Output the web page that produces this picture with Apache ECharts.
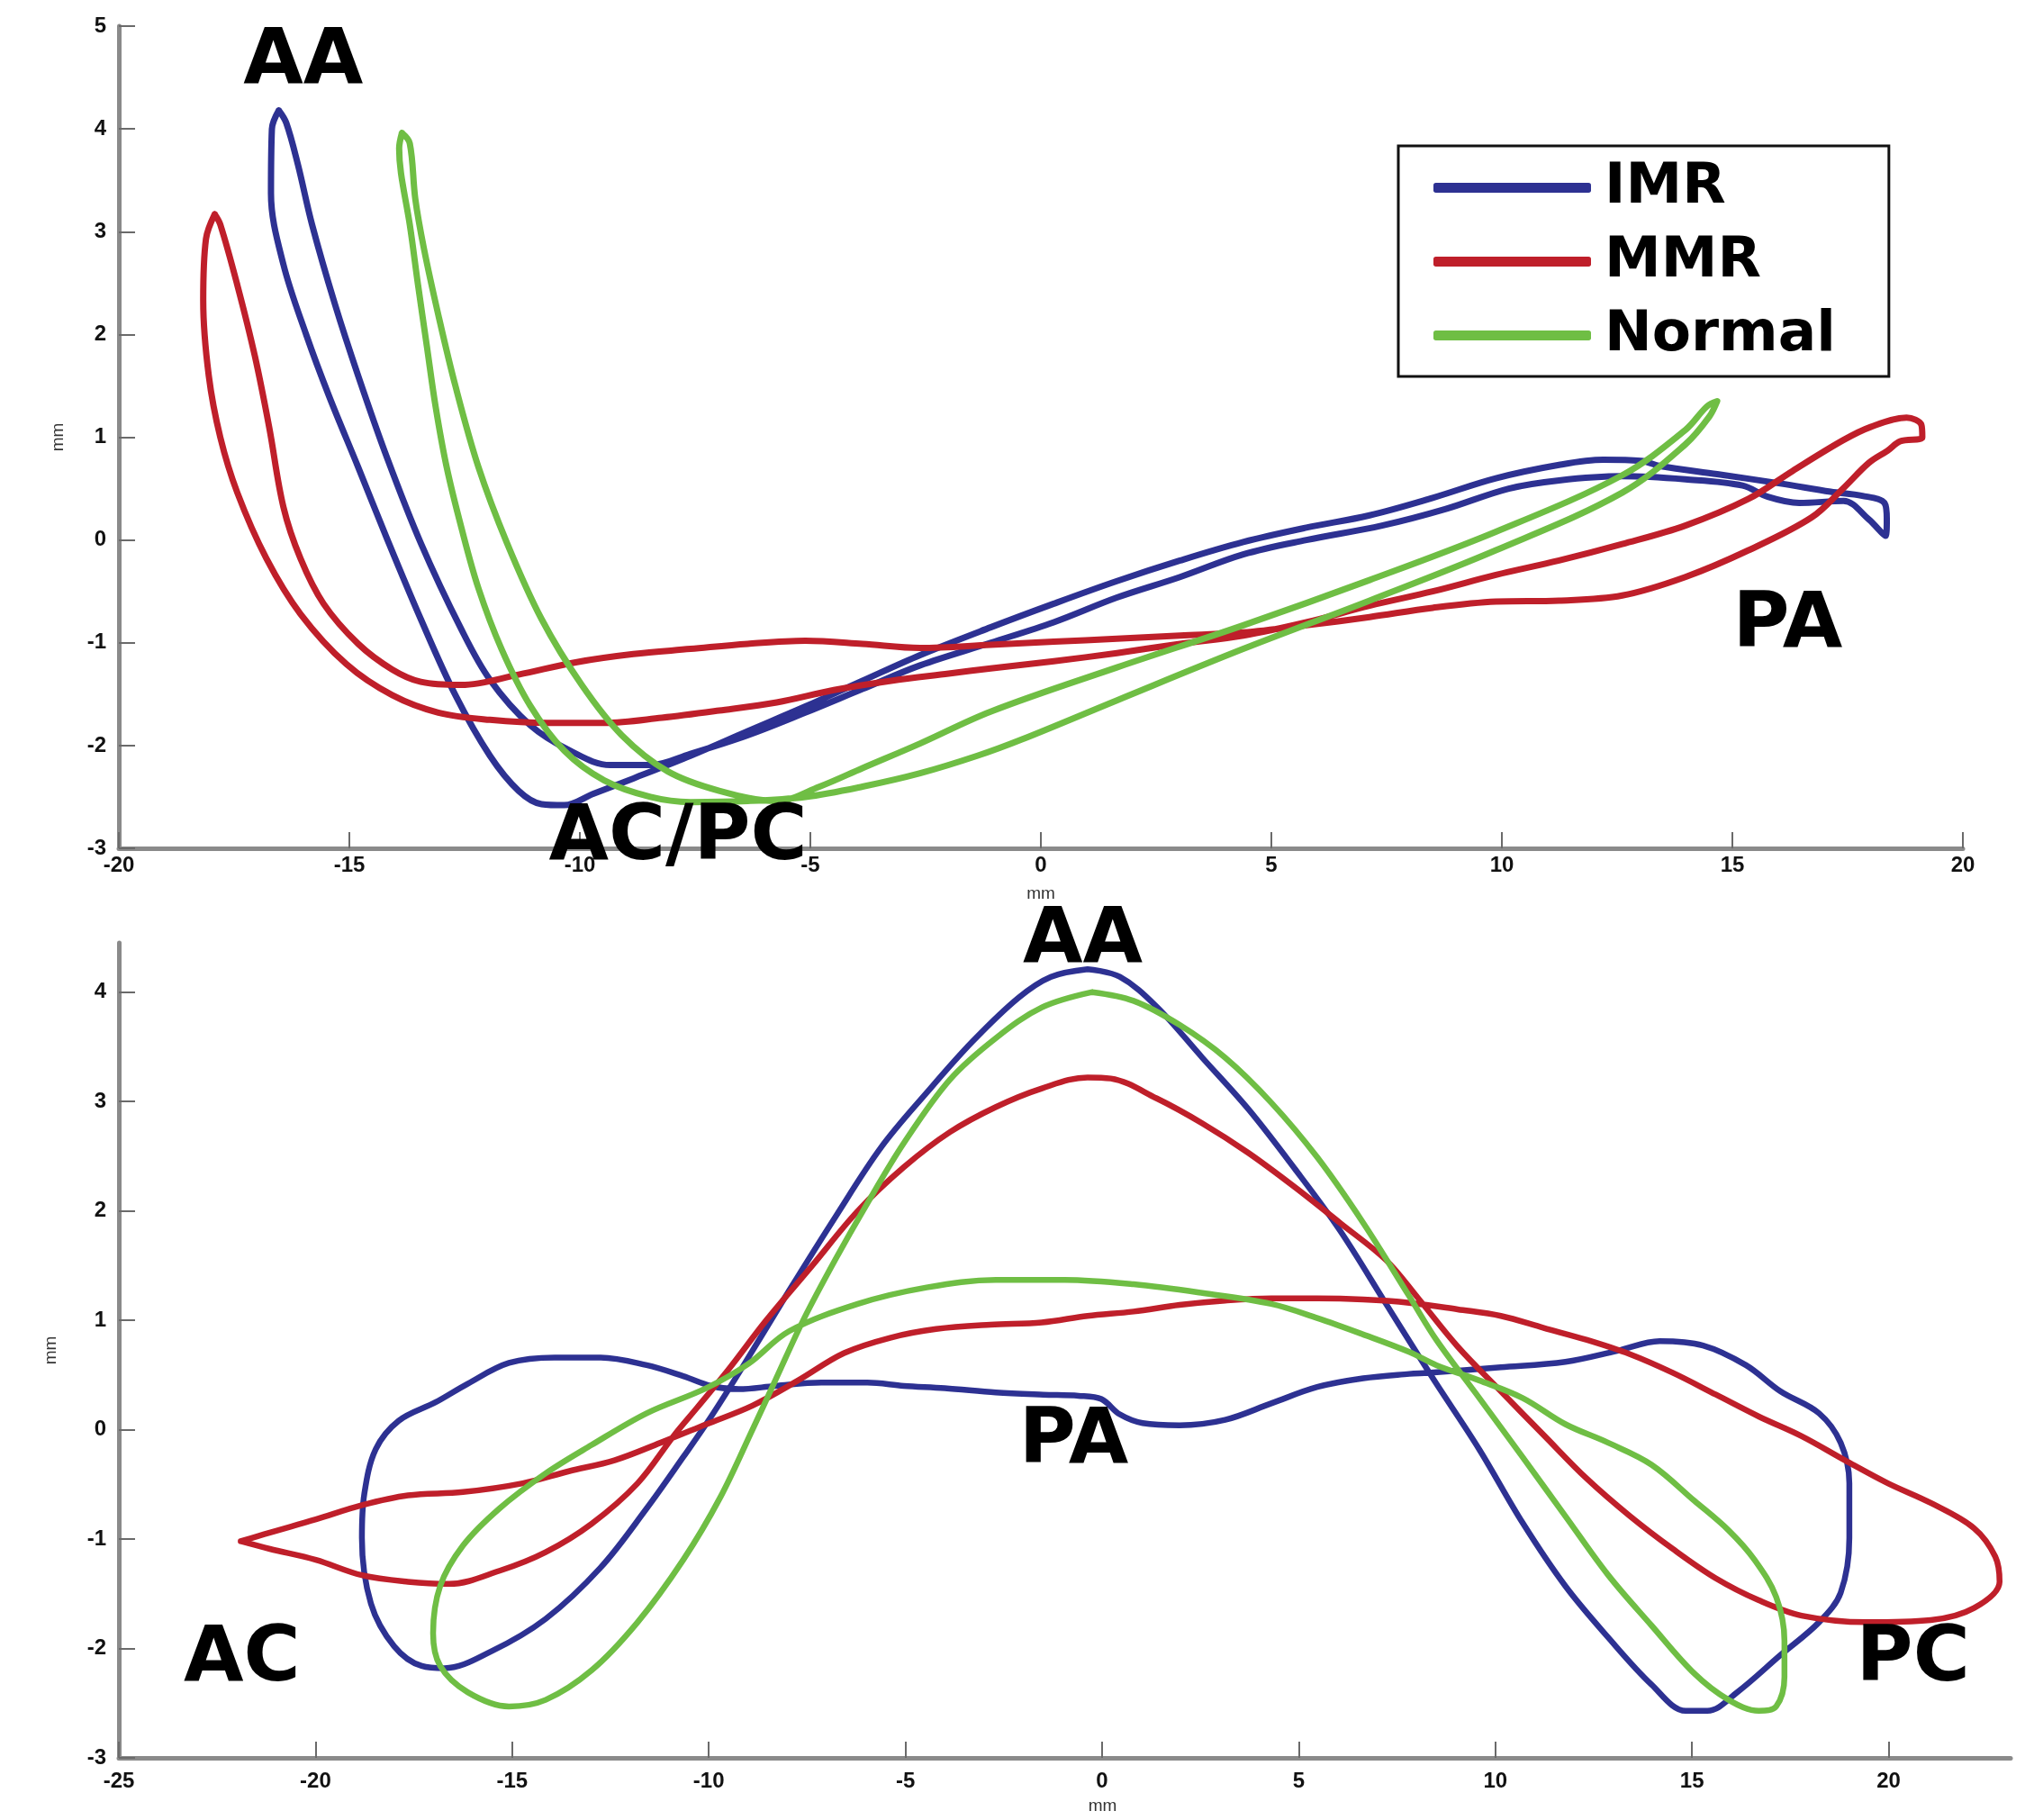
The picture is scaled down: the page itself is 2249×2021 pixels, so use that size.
<!DOCTYPE html>
<html>
<head>
<meta charset="utf-8">
<script src="https://cdn.jsdelivr.net/npm/echarts@6/dist/echarts.min.js"></script>
<style>
  html, body { margin: 0; padding: 0; background: #ffffff; }
  #chart { width: 2249px; height: 2021px; }
</style>
</head>
<body>
<div id="chart"></div>
<script>
// Annulus traces (mm). Each loop is closed: the last point repeats the first.
const seriesNames = ['IMR', 'MMR', 'Normal'];

// Upper panel: septal-lateral position vs. height
const topIMR = [
  [-16.53,4.18],[-16.68,4.0],[-16.7,3.37],[-16.43,2.68],[-15.93,1.99],[-15.44,1.4],[-14.81,0.71],
  [-14.19,0.02],[-13.45,-0.77],[-12.7,-1.51],[-11.95,-2.1],[-11.33,-2.44],[-10.83,-2.57],[-10.34,-2.58],
  [-9.71,-2.47],[-8.84,-2.32],[-7.6,-2.1],[-6.36,-1.86],[-5.11,-1.62],[-3.87,-1.37],[-2.62,-1.12],
  [-1.09,-0.85],[0.28,-0.62],[1.65,-0.4],[3.02,-0.2],[4.39,-0.02],[5.76,0.12],[7.13,0.24],[8.5,0.41],
  [9.87,0.6],[11.24,0.73],[12.2,0.78],[13.02,0.77],[13.43,0.72],[14.67,0.64],[16.04,0.55],[17.13,0.47],
  [17.82,0.43],[18.3,0.36],[18.35,0.2],[18.32,0.04],[17.96,0.2],[17.41,0.38],[16.45,0.36],[15.77,0.42],
  [15.22,0.53],[13.98,0.59],[12.61,0.62],[11.24,0.58],[10.15,0.5],[8.77,0.3],[7.4,0.14],[5.76,0.0],
  [4.39,-0.14],[3.02,-0.36],[1.65,-0.56],[0.28,-0.8],[-1.09,-1.0],[-2.62,-1.22],[-3.87,-1.45],
  [-5.11,-1.68],[-6.36,-1.9],[-7.6,-2.08],[-8.47,-2.19],[-9.34,-2.19],[-10.21,-2.05],[-11.08,-1.8],
  [-11.95,-1.36],[-12.57,-0.87],[-13.45,-0.03],[-14.19,0.81],[-14.81,1.6],[-15.31,2.29],[-15.81,3.07],
  [-16.12,3.66],[-16.37,4.06],[-16.53,4.18]
];
const topMMR = [
  [-17.92,3.17],[-18.11,2.93],[-18.17,2.33],[-18.05,1.6],[-17.8,1.0],[-17.43,0.46],[-16.8,-0.18],
  [-16.06,-0.72],[-15.06,-1.21],[-14.07,-1.51],[-13.07,-1.68],[-11.95,-1.75],[-10.71,-1.78],[-9.47,-1.78],
  [-8.22,-1.73],[-6.98,-1.66],[-5.73,-1.58],[-4.49,-1.46],[-3.25,-1.37],[-2.0,-1.3],[-1.09,-1.25],
  [0.28,-1.18],[1.65,-1.1],[3.02,-1.01],[4.39,-0.93],[5.76,-0.8],[7.13,-0.64],[8.5,-0.5],[9.87,-0.34],
  [11.24,-0.2],[12.61,-0.04],[13.98,0.14],[15.35,0.4],[16.3,0.67],[17.4,0.97],[18.0,1.1],[18.78,1.19],
  [19.1,1.12],[19.12,1.0],[18.64,0.96],[18.37,0.87],[17.96,0.75],[17.4,0.5],[16.72,0.22],[15.35,-0.1],
  [13.98,-0.36],[12.61,-0.54],[11.24,-0.59],[9.87,-0.6],[8.5,-0.66],[7.13,-0.75],[5.76,-0.83],
  [4.39,-0.9],[3.02,-0.93],[1.65,-0.96],[0.28,-0.99],[-1.09,-1.02],[-2.62,-1.05],[-3.87,-1.01],
  [-5.11,-0.98],[-6.36,-1.01],[-7.6,-1.06],[-8.84,-1.11],[-10.09,-1.19],[-11.33,-1.31],[-12.57,-1.41],
  [-13.45,-1.38],[-14.07,-1.26],[-14.81,-1.01],[-15.56,-0.62],[-16.06,-0.18],[-16.43,0.32],[-16.74,1.1],
  [-17.05,1.79],[-17.43,2.48],[-17.8,3.07],[-17.92,3.17]
];
const topNormal = [
  [-13.86,3.96],[-13.92,3.81],[-13.88,3.57],[-13.69,3.07],[-13.51,2.48],[-13.32,1.89],[-13.13,1.3],
  [-12.89,0.71],[-12.57,0.12],[-12.2,-0.47],[-11.7,-1.06],[-11.08,-1.61],[-10.34,-2.05],[-9.47,-2.34],
  [-8.47,-2.5],[-7.6,-2.55],[-6.36,-2.54],[-5.11,-2.5],[-3.87,-2.4],[-2.62,-2.27],[-1.38,-2.1],
  [-0.41,-1.94],[1.65,-1.56],[4.39,-1.06],[7.13,-0.59],[9.87,-0.1],[12.61,0.46],[13.98,0.93],[14.5,1.2],
  [14.67,1.35],[14.45,1.3],[13.98,1.07],[12.61,0.63],[9.87,0.08],[7.13,-0.39],[4.39,-0.83],[1.65,-1.24],
  [-1.09,-1.67],[-2.62,-1.98],[-3.87,-2.22],[-4.8,-2.4],[-5.73,-2.54],[-6.98,-2.44],[-8.1,-2.25],
  [-9.09,-1.9],[-9.96,-1.41],[-10.83,-0.77],[-11.58,-0.03],[-12.2,0.71],[-12.7,1.5],[-13.07,2.19],
  [-13.38,2.83],[-13.57,3.32],[-13.69,3.86],[-13.86,3.96]
];

// Lower panel: commissural position vs. height
const botIMR = [
  [-0.37,4.21],[-1.3,4.14],[-2.12,3.95],[-3.29,3.55],[-4.46,3.08],[-5.62,2.58],[-6.79,1.94],[-7.96,1.27],
  [-9.13,0.58],[-9.94,0.12],[-10.65,-0.25],[-11.58,-0.72],[-12.75,-1.26],[-14.15,-1.73],[-15.55,-2.03],
  [-16.72,-2.18],[-17.3,-2.16],[-18.0,-1.98],[-18.59,-1.59],[-18.82,-0.99],[-18.76,-0.59],[-18.47,-0.18],
  [-17.89,0.08],[-16.95,0.25],[-16.13,0.42],[-15.08,0.61],[-13.92,0.66],[-12.75,0.66],[-11.58,0.59],
  [-10.65,0.49],[-9.94,0.4],[-9.24,0.37],[-8.31,0.4],[-7.14,0.43],[-5.97,0.43],[-5.04,0.4],[-4.0,0.38],
  [-2.7,0.34],[-1.5,0.32],[-0.6,0.31],[-0.02,0.28],[0.45,0.14],[1.03,0.06],[1.97,0.04],[3.13,0.09],
  [4.3,0.24],[5.47,0.39],[6.64,0.47],[7.81,0.51],[8.28,0.52],[10.14,0.57],[11.78,0.62],[13.09,0.72],
  [14.18,0.81],[15.28,0.77],[16.37,0.59],[17.25,0.35],[18.23,0.15],[18.78,-0.12],[19.0,-0.49],
  [19.0,-0.99],[18.78,-1.49],[18.23,-1.76],[17.25,-2.06],[16.15,-2.4],[15.39,-2.57],[14.84,-2.57],
  [13.97,-2.33],[12.87,-1.9],[11.78,-1.43],[10.69,-0.85],[9.59,-0.18],[8.5,0.42],[8.04,0.68],
  [7.22,1.15],[6.05,1.82],[4.89,2.39],[3.72,2.93],[2.55,3.4],[1.38,3.87],[0.45,4.14],[-0.37,4.21]
];
const botMMR = [
  [-21.9,-1.02],[-21.16,-0.94],[-19.99,-0.82],[-18.82,-0.69],[-17.65,-0.6],[-16.25,-0.57],[-14.73,-0.49],
  [-13.56,-0.38],[-12.4,-0.28],[-11.23,-0.12],[-10.06,0.05],[-8.89,0.22],[-7.73,0.45],[-6.56,0.7],
  [-5.39,0.84],[-4.22,0.92],[-2.84,0.96],[-1.53,0.98],[-0.37,1.04],[0.8,1.08],[1.97,1.14],[3.13,1.18],
  [4.3,1.2],[5.47,1.2],[6.64,1.19],[7.81,1.16],[9.04,1.1],[10.14,1.04],[11.23,0.93],[12.33,0.82],
  [13.42,0.69],[14.51,0.52],[15.61,0.32],[16.7,0.12],[17.79,-0.06],[18.89,-0.28],[19.98,-0.49],
  [21.07,-0.67],[22.17,-0.9],[22.71,-1.16],[22.82,-1.39],[22.17,-1.63],[21.07,-1.74],[19.43,-1.76],
  [17.79,-1.7],[16.7,-1.56],[15.61,-1.36],[14.51,-1.09],[13.42,-0.79],[12.33,-0.45],[11.23,-0.05],
  [10.14,0.35],[9.04,0.76],[8.04,1.2],[7.22,1.55],[6.05,1.89],[4.89,2.22],[3.72,2.53],[2.55,2.8],
  [1.38,3.03],[0.22,3.21],[-0.37,3.22],[-1.53,3.12],[-2.7,2.95],[-3.87,2.72],[-5.04,2.4],[-6.21,2.0],
  [-7.37,1.5],[-8.54,1.0],[-9.5,0.55],[-10.3,0.2],[-10.88,-0.05],[-11.81,-0.49],[-12.98,-0.86],
  [-14.15,-1.12],[-15.32,-1.29],[-16.6,-1.41],[-17.65,-1.39],[-18.82,-1.33],[-19.99,-1.19],
  [-21.16,-1.09],[-21.9,-1.02]
];
const botNormal = [
  [-0.25,4.0],[0.8,3.92],[1.97,3.7],[3.13,3.4],[4.3,2.99],[5.47,2.49],[6.64,1.89],[7.81,1.22],[8.5,0.82],
  [9.59,0.29],[10.69,-0.25],[11.78,-0.79],[12.87,-1.33],[13.97,-1.79],[15.06,-2.23],[15.93,-2.47],
  [16.7,-2.57],[17.14,-2.53],[17.35,-2.26],[17.35,-1.93],[17.14,-1.53],[16.59,-1.19],[15.93,-0.92],
  [15.06,-0.65],[13.97,-0.32],[12.87,-0.12],[11.78,0.05],[10.69,0.29],[9.59,0.45],[8.5,0.59],
  [7.81,0.71],[6.64,0.87],[5.47,1.02],[4.3,1.15],[2.55,1.25],[0.8,1.33],[-0.95,1.37],[-2.7,1.37],
  [-4.46,1.3],[-6.21,1.15],[-7.96,0.9],[-9.0,0.6],[-10.06,0.38],[-11.58,0.15],[-12.98,-0.14],
  [-14.15,-0.4],[-15.32,-0.72],[-16.25,-1.06],[-16.83,-1.43],[-17.01,-1.86],[-16.83,-2.16],
  [-16.13,-2.4],[-15.08,-2.53],[-14.15,-2.47],[-12.98,-2.2],[-11.81,-1.76],[-10.65,-1.19],
  [-9.71,-0.62],[-8.89,0.0],[-8.31,0.45],[-7.6,1.0],[-6.79,1.55],[-6.0,2.05],[-5.04,2.62],
  [-3.87,3.2],[-2.7,3.58],[-1.53,3.86],[-0.25,4.0]
];

// Tick values
const topXTicks = [-20, -15, -10, -5, 0, 5, 10, 15, 20];
const topYTicks = [-3, -2, -1, 0, 1, 2, 3, 4, 5];
const botXTicks = [-25, -20, -15, -10, -5, 0, 5, 10, 15, 20];
const botYTicks = [-3, -2, -1, 0, 1, 2, 3, 4];

// Landmark names placed at their data positions
const topNotes = [
  { name: 'AA', value: [-16.0, 4.64] },
  { name: 'AC/PC', value: [-7.87, -2.91] },
  { name: 'PA', value: [16.2, -0.84] }
];
const botNotes = [
  { name: 'AA', value: [-0.49, 4.46] },
  { name: 'PA', value: [-0.72, -0.12] },
  { name: 'AC', value: [-21.87, -2.11] },
  { name: 'PC', value: [20.62, -2.11] }
];

const palette = { IMR: '#2d3192', MMR: '#bf1f2a', Normal: '#6fbe44' };

const tickFont = { fontFamily: 'Liberation Sans, Arial, sans-serif', fontWeight: 'bold', fontSize: 24, color: '#111' };
const nameFont = { fontFamily: 'Liberation Sans, Arial, sans-serif', fontSize: 19, color: '#333' };

function xAxisDef(gridIndex, min, max, ticks, margin, nameGap, namePad) {
  return {
    type: 'value', gridIndex, min, max, interval: 5,
    name: 'mm', nameLocation: 'middle', nameGap,
    nameTextStyle: Object.assign({ padding: namePad }, nameFont),
    axisLine: { show: true, onZero: false, lineStyle: { color: '#8a8a8a', width: 5 } },
    axisTick: { show: true, inside: true, length: 18, customValues: ticks, lineStyle: { color: '#6a6a6a', width: 2 } },
    axisLabel: Object.assign({ margin, customValues: ticks, formatter: v => String(v) }, tickFont),
    splitLine: { show: false }
  };
}
function yAxisDef(gridIndex, min, max, ticks, nameGap) {
  return {
    type: 'value', gridIndex, min, max, interval: 1,
    name: 'mm', nameLocation: 'middle', nameGap,
    nameTextStyle: nameFont,
    axisLine: { show: true, onZero: false, lineStyle: { color: '#8a8a8a', width: 5 } },
    axisTick: { show: true, inside: true, length: 18, customValues: ticks, lineStyle: { color: '#6a6a6a', width: 2 } },
    axisLabel: Object.assign({ margin: 14, customValues: ticks, formatter: v => String(v) }, tickFont),
    splitLine: { show: false }
  };
}

function loop(name, data, idx, width) {
  return {
    name, type: 'line', xAxisIndex: idx, yAxisIndex: idx, data,
    showSymbol: false, smooth: 0.35, silent: true, animation: false,
    itemStyle: { color: palette[name] },
    lineStyle: { color: palette[name], width, cap: 'round', join: 'round' }
  };
}
function notes(data, idx) {
  return {
    type: 'scatter', xAxisIndex: idx, yAxisIndex: idx, data, clip: false,
    symbolSize: 1, itemStyle: { color: 'rgba(255,255,255,0)', opacity: 1 },
    silent: true, animation: false, z: 5,
    label: {
      show: true, position: 'inside', formatter: '{b}', opacity: 1,
      fontFamily: 'DejaVu Sans, Liberation Sans, Arial, sans-serif', fontWeight: 'bold',
      fontSize: 86, color: '#000'
    }
  };
}

const option = {
  backgroundColor: '#ffffff',
  animation: false,
  grid: [
    { left: 132, top: 29, width: 2048, height: 913 },
    { left: 132, top: 1047, width: 2101, height: 905 }
  ],
  xAxis: [
    xAxisDef(0, -20, 20, topXTicks, 7, 41, [0, 0, 0, 0]),
    xAxisDef(1, -25, 23.1, botXTicks, 14, 44, [0, 0, 0, 84])
  ],
  yAxis: [
    yAxisDef(0, -3, 5, topYTicks, 58),
    yAxisDef(1, -3, 4.45, botYTicks, 66)
  ],
  legend: {
    data: seriesNames, orient: 'vertical', left: 1553, top: 162,
    padding: [15, 59, 14, 39], itemGap: 19,
    itemWidth: 175, itemHeight: 11, icon: 'roundRect',
    borderColor: '#111', borderWidth: 3, backgroundColor: '#ffffff',
    textStyle: {
      fontFamily: 'DejaVu Sans, Liberation Sans, Arial, sans-serif', fontWeight: 'bold',
      fontSize: 63, lineHeight: 62, color: '#000', padding: [0, 0, 0, 10]
    },
    selectedMode: false
  },
  series: [
    loop('IMR', topIMR, 0, 7),
    loop('MMR', topMMR, 0, 7),
    loop('Normal', topNormal, 0, 7),
    loop('IMR', botIMR, 1, 6.5),
    loop('MMR', botMMR, 1, 6.5),
    loop('Normal', botNormal, 1, 6.5),
    notes(topNotes, 0),
    notes(botNotes, 1)
  ]
};

const chart = echarts.init(document.getElementById('chart'), null, { renderer: 'canvas' });
chart.setOption(option);
</script>
</body>
</html>
